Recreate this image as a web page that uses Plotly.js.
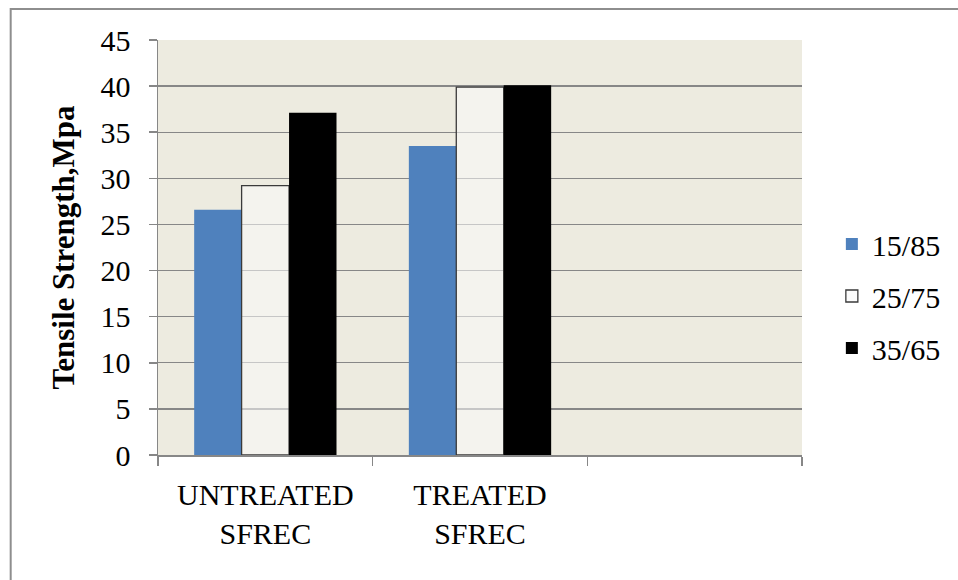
<!DOCTYPE html>
<html>
<head>
<meta charset="utf-8">
<script src="https://cdn.plot.ly/plotly-3.0.1.min.js"></script>
<style>
  html, body { margin: 0; padding: 0; background: #ffffff; }
  #chart { width: 958px; height: 580px; }
</style>
</head>
<body>
<div id="chart"></div>
<script>
// Fibre/matrix ratio groups on the x axis; the third slot stays empty.
const categories = ['UNTREATED<br>SFREC', 'TREATED<br>SFREC'];
const emptySlot = ' ';

// Tensile strength (MPa) per fibre/matrix ratio
const ratioNames = ['15/85', '25/75', '35/65'];
const ratio15_85 = [26.6, 33.5];
const ratio25_75 = [29.2, 39.9];
const ratio35_65 = [37.1, 40.1];

const yTicks = [0, 5, 10, 15, 20, 25, 30, 35, 40, 45];

const serif = '"Liberation Serif", serif';
const gridGray = '#878787';

const traces = [
  {
    type: 'bar', name: ratioNames[0], x: categories, y: ratio15_85,
    marker: { color: '#4F81BD', line: { width: 0 } },
    legendgroup: 'a', hoverinfo: 'x+y+name'
  },
  {
    type: 'bar', name: ratioNames[1], x: categories, y: ratio25_75,
    marker: { color: 'rgba(250,250,250,0.55)', line: { color: '#3a3a3a', width: 1.3 } },
    legendgroup: 'b', hoverinfo: 'x+y+name'
  },
  {
    type: 'bar', name: ratioNames[2], x: categories, y: ratio35_65,
    marker: { color: '#000000', line: { width: 0 } },
    legendgroup: 'c', hoverinfo: 'x+y+name'
  }
];

// Frame of the figure: only its top and left edges fall inside the page
const W = 647, H = 415, L = 158, T = 40;
const px = v => (v - L) / W;
const py = v => (T + H - v) / H;

const layout = {
  width: 958,
  height: 580,
  margin: { l: L, r: 958 - L - W, t: T, b: 580 - T - H, pad: 0 },
  paper_bgcolor: '#ffffff',
  plot_bgcolor: '#EDEBE0',
  font: { family: serif, size: 30, color: '#000000' },
  barmode: 'group',
  bargap: 0.337,
  bargroupgap: 0,
  showlegend: true,
  legend: {
    x: px(835), xanchor: 'left',
    y: py(296), yanchor: 'middle',
    font: { family: serif, size: 30, color: '#000000' },
    traceorder: 'grouped',
    tracegroupgap: 10,
    bgcolor: 'rgba(0,0,0,0)'
  },
  xaxis: {
    type: 'category',
    categoryorder: 'array',
    categoryarray: categories.concat([emptySlot]),
    range: [-0.5, 2.5],
    tickson: 'boundaries',
    ticks: 'outside',
    ticklen: 9,
    tickwidth: 1.5,
    tickcolor: gridGray,
    showline: true,
    linecolor: gridGray,
    linewidth: 1.5,
    showgrid: false,
    zeroline: false,
    tickfont: { family: serif, size: 30, color: '#000000' },
    ticklabelstandoff: 12,
    fixedrange: true
  },
  yaxis: {
    range: [0, 45],
    tickmode: 'array',
    tickvals: yTicks,
    ticktext: yTicks.map(String),
    ticks: 'outside',
    ticklen: 8,
    tickwidth: 1.5,
    tickcolor: gridGray,
    showline: true,
    linecolor: gridGray,
    linewidth: 1.5,
    showgrid: true,
    gridcolor: gridGray,
    gridwidth: 1.4,
    zeroline: false,
    tickfont: { family: serif, size: 30, color: '#000000' },
    ticklabelstandoff: 12,
    title: {
      text: 'Tensile Strength,Mpa',
      font: { family: serif, size: 31, color: '#000000', weight: 'bold' },
      standoff: 16
    },
    automargin: false,
    fixedrange: true
  },
  shapes: [
    {
      type: 'path', xref: 'paper', yref: 'paper',
      path: 'M ' + px(1000) + ' ' + py(9) + ' L ' + px(10) + ' ' + py(9) + ' L ' + px(10) + ' ' + py(620),
      line: { color: '#8E8E8E', width: 2 },
      layer: 'above'
    }
  ]
};

Plotly.newPlot('chart', traces, layout, { displayModeBar: false, staticPlot: true });
</script>
</body>
</html>
